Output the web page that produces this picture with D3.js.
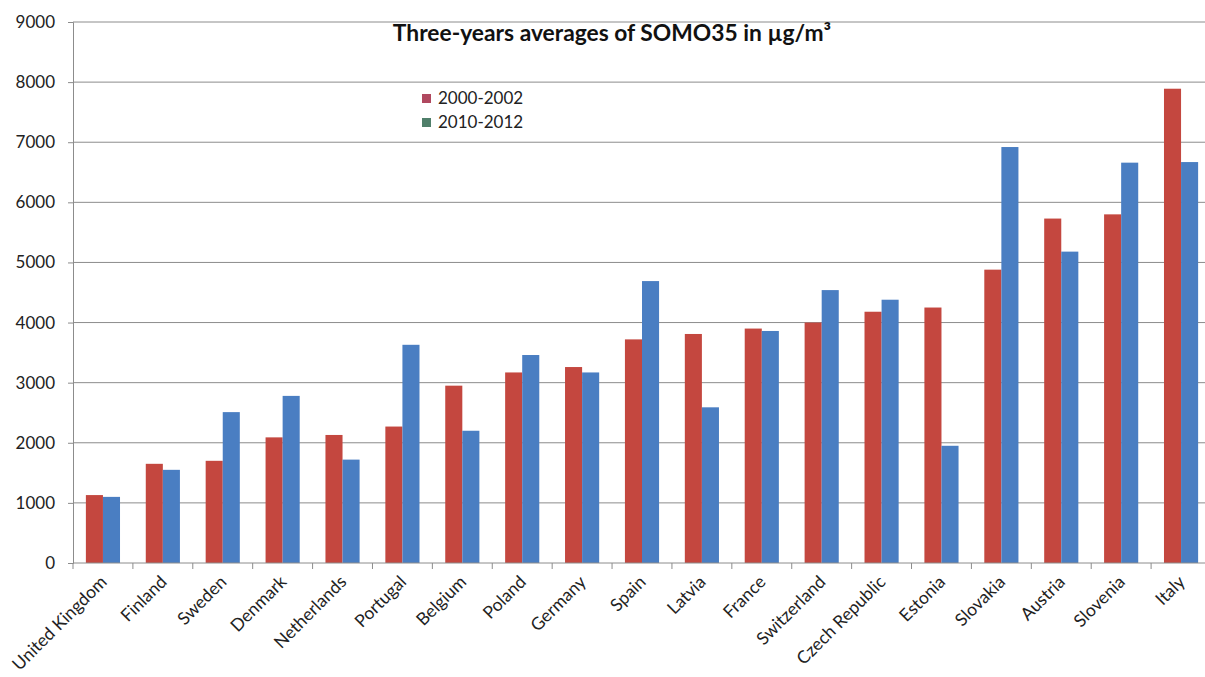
<!DOCTYPE html>
<html>
<head>
<meta charset="utf-8">
<script src="https://cdn.jsdelivr.net/npm/d3@7"></script>
<style>
  body { margin: 0; background: #fff; }
  text { font-family: Lato, "Open Sans", sans-serif; }
</style>
</head>
<body>
<script>
let countries = ["United Kingdom", "Finland", "Sweden", "Denmark", "Netherlands", "Portugal",
    "Belgium", "Poland", "Germany", "Spain", "Latvia", "France", "Switzerland",
    "Czech Republic", "Estonia", "Slovakia", "Austria", "Slovenia", "Italy"];
let series = ["2000-2002", "2010-2012"];
let v2000 = [1130, 1650, 1700, 2090, 2130, 2270, 2950, 3170, 3260, 3720, 3810, 3900, 4000, 4180, 4250, 4880, 5730, 5800, 7890];
let v2010 = [1100, 1550, 2510, 2780, 1720, 3630, 2200, 3460, 3170, 4690, 2590, 3860, 4540, 4380, 1950, 6920, 5180, 6660, 6670];
let yTicks = [0, 1000, 2000, 3000, 4000, 5000, 6000, 7000, 8000, 9000];

function main() {
    let width = 1205, height = 677;
    let left = 73, right = 1211, top = 22, bottom = 563;

    let svg = d3.select("body").append("svg")
        .attr("width", width)
        .attr("height", height);

    let x = d3.scaleBand().domain(countries).range([left, right]).paddingInner(0.43).paddingOuter(0.215);
    let y = d3.scaleLinear().domain([0, 9000]).range([bottom, top]);
    let barColors = ["#c4473f", "#4a7ec2"];
    let legendColors = ["#b0485f", "#4f7f6a"];

    // gridlines
    svg.append("g").selectAll("line")
        .data(yTicks.filter(d => d > 0))
        .enter().append("line")
        .attr("x1", left).attr("x2", width)
        .attr("y1", d => y(d)).attr("y2", d => y(d))
        .attr("stroke", "#8c8c8c").attr("stroke-width", 1);

    // bars
    let half = x.bandwidth() / 2;
    let rows = countries.map((c, i) => ({ name: c, vals: [v2000[i], v2010[i]] }));
    let groups = svg.append("g").selectAll("g")
        .data(rows).enter().append("g");
    groups.selectAll("rect")
        .data(d => d.vals.map((v, k) => ({ name: d.name, v: v, k: k })))
        .enter().append("rect")
        .attr("x", d => x(d.name) + d.k * half)
        .attr("y", d => y(d.v))
        .attr("width", half)
        .attr("height", d => y(0) - y(d.v))
        .attr("fill", d => barColors[d.k]);

    // y axis
    let yAxis = svg.append("g")
        .attr("transform", "translate(" + left + ",0)")
        .call(d3.axisLeft(y).tickValues(yTicks).tickSize(5).tickPadding(13).tickFormat(d3.format("d")));
    yAxis.select(".domain").attr("stroke", "#8c8c8c");
    yAxis.selectAll(".tick line").attr("stroke", "#8c8c8c");
    yAxis.selectAll("text").attr("font-size", "17px").attr("fill", "#222")
        .style("font-family", "Lato, sans-serif");

    // x axis
    let xAxisLine = svg.append("g");
    xAxisLine.append("line")
        .attr("x1", left).attr("x2", width)
        .attr("y1", bottom).attr("y2", bottom)
        .attr("stroke", "#8c8c8c");
    let step = x.step();
    xAxisLine.selectAll(".sep")
        .data(d3.range(countries.length + 1))
        .enter().append("line")
        .attr("x1", i => left + i * step).attr("x2", i => left + i * step)
        .attr("y1", bottom).attr("y2", bottom + 6)
        .attr("stroke", "#8c8c8c");

    svg.append("g").selectAll("text")
        .data(countries)
        .enter().append("text")
        .attr("transform", d => "translate(" + (x(d) + x.bandwidth() / 2 + 5) + "," + (bottom + 20) + ") rotate(-45)")
        .attr("text-anchor", "end")
        .attr("font-size", "17.5px")
        .attr("fill", "#222")
        .text(d => d);

    // title
    svg.append("text")
        .attr("x", 612).attr("y", 41)
        .attr("text-anchor", "middle")
        .attr("font-size", "22.8px")
        .attr("font-weight", "bold")
        .attr("fill", "#111")
        .text("Three-years averages of SOMO35 in \u00b5g/m\u00b3");

    // legend
    let legend = svg.append("g").selectAll("g")
        .data(series).enter().append("g")
        .attr("transform", (d, i) => "translate(422," + (94 + i * 24) + ")");
    legend.append("rect")
        .attr("width", 9).attr("height", 9)
        .attr("fill", (d, i) => legendColors[i]);
    legend.append("text")
        .attr("x", 16).attr("y", 10)
        .attr("font-size", "17px")
        .attr("fill", "#222")
        .text(d => d);
}

main();
</script>
</body>
</html>
